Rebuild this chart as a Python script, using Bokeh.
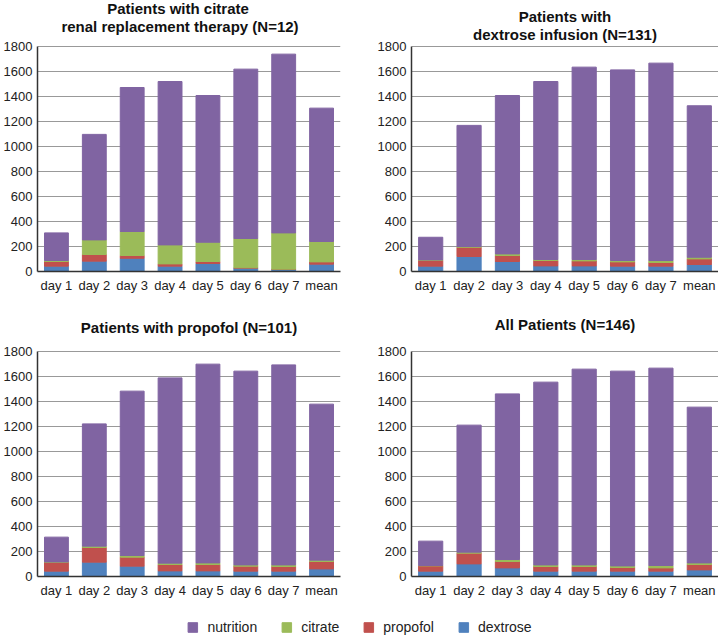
from bokeh.plotting import figure
from bokeh.models import FactorRange, Range1d, Legend, LegendItem, FixedTicker, ColumnDataSource, Label
from bokeh.layouts import column, row
from bokeh.embed import file_html
from bokeh.resources import INLINE

# ---------------- data ----------------
days = ["day 1", "day 2", "day 3", "day 4", "day 5", "day 6", "day 7", "mean"]
series = ["dextrose", "propofol", "citrate", "nutrition"]
colors = ["#4f81bd", "#c0504d", "#9bbb59", "#8064a2"]
legend_order = ["nutrition", "citrate", "propofol", "dextrose"]
yticks = [0, 200, 400, 600, 800, 1000, 1200, 1400, 1600, 1800]
ymax = 1800

titles = [
    ["Patients with citrate", "renal replacement therapy (N=12)"],
    ["Patients with", "dextrose infusion (N=131)"],
    ["Patients with propofol (N=101)"],
    ["All Patients (N=146)"],
]

# Patients with citrate renal replacement therapy
rrt_dextrose = [43, 83, 106, 43, 64, 27, 16, 59]
rrt_propofol = [37, 53, 22, 18, 16, 3, 3, 18]
rrt_citrate = [8, 117, 192, 152, 154, 234, 290, 163]
rrt_nutrition = [221, 844, 1152, 1307, 1174, 1355, 1430, 1067]

# Patients with dextrose infusion
dex_dextrose = [43, 120, 80, 45, 45, 43, 43, 56]
dex_propofol = [47, 74, 48, 43, 40, 34, 29, 45]
dex_citrate = [3, 6, 13, 8, 11, 11, 16, 13]
dex_nutrition = [181, 969, 1267, 1424, 1539, 1525, 1579, 1212]

# Patients with propofol
pro_dextrose = [43, 115, 83, 45, 45, 43, 43, 61]
pro_propofol = [72, 117, 72, 51, 51, 40, 37, 59]
pro_citrate = [2, 11, 13, 11, 13, 10, 13, 11]
pro_nutrition = [198, 978, 1315, 1482, 1590, 1550, 1600, 1248]

# All patients
all_dextrose = [43, 101, 69, 43, 43, 43, 43, 53]
all_propofol = [42, 86, 51, 37, 37, 29, 26, 43]
all_citrate = [3, 8, 16, 13, 13, 13, 19, 13]
all_nutrition = [195, 1016, 1325, 1462, 1566, 1558, 1579, 1246]

FONT = "Liberation Sans"
PLOT_H = 225  # pixel height of the 0..1800 value area


def panel(lines, dextrose, propofol, citrate, nutrition, width, height, bl, br, head, bb,
          yoffs, xoffs):
    # the frame reaches the top of the figure so that title text inside it is not clipped
    top = ymax + head * ymax / PLOT_H
    p = figure(x_range=FactorRange(*days), y_range=Range1d(0, top),
               width=width, height=height, output_backend="svg", toolbar_location=None,
               min_border_left=bl, min_border_right=br, min_border_top=0, min_border_bottom=bb)
    src = ColumnDataSource(dict(day=days, dextrose=dextrose, propofol=propofol,
                                citrate=citrate, nutrition=nutrition))
    p.vbar_stack(series, x="day", width=0.63, color=colors, source=src)
    for line, yo, xo in zip(lines, yoffs, xoffs):
        p.add_layout(Label(x=len(days) / 2, y=ymax, x_offset=xo, y_offset=yo, text=line,
                           text_align="center", text_baseline="middle",
                           text_font=FONT, text_font_size="15px", text_font_style="bold",
                           text_color="#111111"))
    p.outline_line_color = None
    p.xgrid.visible = False
    p.ygrid.grid_line_color = "#999999"
    p.ygrid.grid_line_width = 1.2
    p.yaxis.ticker = FixedTicker(ticks=yticks)
    p.yaxis.bounds = (0, ymax)
    for ax in (p.xaxis, p.yaxis):
        ax.major_tick_line_color = None
        ax.minor_tick_line_color = None
        ax.major_tick_out = 0
        ax.major_tick_in = 0
        ax.minor_tick_out = 0
        ax.minor_tick_in = 0
        ax.major_label_text_font = FONT
        ax.major_label_text_font_size = "13px"
        ax.major_label_text_color = "#222222"
        ax.axis_line_color = "#333333"
        ax.axis_line_width = 1.5
    p.xaxis.major_label_standoff = 6
    p.yaxis.major_label_standoff = 5
    return p


p1 = panel(titles[0], rrt_dextrose, rrt_propofol, rrt_citrate, rrt_nutrition,
           358, 300, 0, 18, 46, 29, [38, 20], [-11, -9])
p2 = panel(titles[1], dex_dextrose, dex_propofol, dex_citrate, dex_nutrition,
           360, 300, 53, 0, 46, 29, [30, 12], [0, 0])
p3 = panel(titles[2], pro_dextrose, pro_propofol, pro_citrate, pro_nutrition,
           358, 303, 0, 18, 51, 27, [24], [0])
p4 = panel(titles[3], all_dextrose, all_propofol, all_citrate, all_nutrition,
           360, 303, 53, 0, 51, 27, [27], [0])

leg = figure(width=718, height=36, output_backend="svg", toolbar_location=None,
             x_range=Range1d(0, 1), y_range=Range1d(0, 1),
             x_axis_location=None, y_axis_location=None, min_border=0)
leg.grid.visible = False
leg.outline_line_color = None
items = []
for name in legend_order:
    c = colors[series.index(name)]
    r = leg.vbar(x=[-5], top=[-5], width=0.5, color=c)
    items.append(LegendItem(label=name, renderers=[r]))
legend = Legend(items=items, orientation="horizontal", location="bottom_center",
                glyph_width=12, glyph_height=12, label_standoff=9, spacing=23,
                label_text_font=FONT, label_text_font_size="14px", label_text_color="#222222",
                label_height=14, padding=0, margin=4, border_line_color=None,
                background_fill_alpha=0)
leg.add_layout(legend, "center")

layout = column(row(p1, p2), row(p3, p4), leg)
open("out.html", "w").write(file_html(layout, INLINE))
